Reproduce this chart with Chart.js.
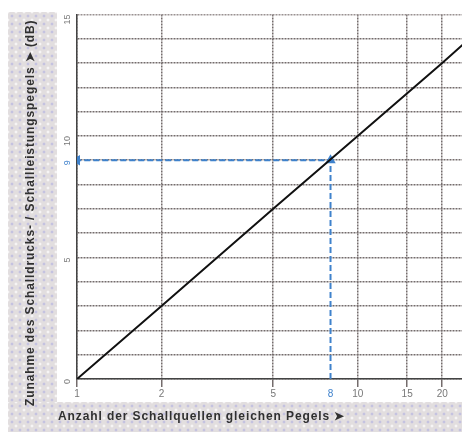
<!DOCTYPE html>
<html>
<head>
<meta charset="utf-8">
<script src="https://cdn.jsdelivr.net/npm/chart.js@4/dist/chart.umd.min.js"></script>
<style>
  html, body { margin: 0; padding: 0; background: #fff; overflow: hidden; }
  body { width: 462px; height: 432px; position: relative; }
  .muster {
    position: absolute;
    background-color: #e2dedf;
    background-image:
      radial-gradient(circle, rgba(160, 160, 225, 0.45) 1px, transparent 1.8px),
      radial-gradient(circle, rgba(255, 255, 255, 0.7) 1px, transparent 1.8px);
    background-size: 8px 8px, 8px 8px;
    background-position: 0 0, 4px 4px;
  }
  #links { left: 8px; top: 12px; width: 49px; height: 420px; }
  #unten { left: 8px; top: 402px; width: 454px; height: 30px; }
  #box { position: absolute; left: 0; top: 0; width: 476px; height: 432px; }
</style>
</head>
<body>
<div class="muster" id="links"></div>
<div class="muster" id="unten"></div>
<div id="box"><canvas id="chart"></canvas></div>
<script>
  // Pegelzunahme bei n gleichen Schallquellen
  const lineN = [1, 2, 5, 10, 20, 25];
  const lineDb = [0, 3, 7, 10, 13, 14];

  // Ablesebeispiel: 8 Quellen -> 9 dB
  const markN = [8, 8, 1];
  const markDb = [0, 9, 9];

  const xTicks = [1, 2, 5, 8, 10, 15, 20, 25];
  const yLabels = [0, 5, 9, 10, 15];

  const xTitle = "Anzahl der Schallquellen gleichen Pegels \u27A4";
  const yTitle = "Zunahme des Schalldrucks- / Schallleistungspegels \u27A4 (dB)";

  const blau = "#3f82cc";
  const grau = "#777";
  const gitter = "#746c6c";

  const titelPlugin = {
    id: "titel",
    afterDraw(chart) {
      const ctx = chart.ctx;
      ctx.save();
      ctx.fillStyle = "#303030";
      ctx.font = "bold 12px 'Liberation Sans', Arial, sans-serif";
      ctx.letterSpacing = "0.9px";
      ctx.textBaseline = "middle";
      ctx.textAlign = "left";
      ctx.fillText(xTitle, 58, 417);

      ctx.translate(31, 406);
      ctx.rotate(-Math.PI / 2);
      ctx.fillText(yTitle, 0, 0);
      ctx.restore();
    },
  };

  const ctx = document.querySelector("#chart").getContext("2d");
  const myChart = new Chart(ctx, {
    type: "line",
    data: {
      datasets: [
        {
          data: lineN.map((n, i) => ({ x: n, y: lineDb[i] })),
          borderColor: "#111",
          borderWidth: 2,
          pointRadius: 0,
          tension: 0,
        },
        {
          data: markN.map((n, i) => ({ x: n, y: markDb[i] })),
          borderColor: blau,
          backgroundColor: blau,
          borderWidth: 2,
          borderDash: [6, 3],
          pointStyle: "triangle",
          pointRadius: [0, 4, 4],
          pointRotation: [0, 0, -90],
          tension: 0,
        },
      ],
    },
    options: {
      responsive: true,
      maintainAspectRatio: false,
      animation: false,
      layout: { padding: { top: 13, right: 5, bottom: 0, left: 0 } },
      plugins: {
        legend: { display: false },
        tooltip: { enabled: false },
      },
      scales: {
        x: {
          type: "logarithmic",
          min: 1,
          max: 25,
          afterBuildTicks: (scale) => {
            scale.ticks = xTicks.map((v) => ({ value: v }));
          },
          afterFit: (scale) => {
            scale.height = 53;
          },
          grid: {
            color: (c) => (c.tick && c.tick.value === 8 ? "transparent" : gitter),
            lineWidth: 1.5,
            tickLength: 8,
          },
          border: { color: "#444", width: 1.5, dash: [2, 1] },
          ticks: {
            autoSkip: false,
            maxRotation: 0,
            padding: 1,
            color: (c) => (c.tick && c.tick.value === 8 ? blau : grau),
            font: { family: "'Liberation Sans', Arial, sans-serif", size: 10 },
            callback: (v) => String(v),
          },
        },
        y: {
          min: 0,
          max: 15,
          afterFit: (scale) => {
            scale.width = 77;
          },
          grid: {
            color: (c) => (c.tick && c.tick.value === 15 ? "#9a9292" : gitter),
            lineWidth: 1.5,
            tickLength: 0,
          },
          border: { color: "#444", width: 1.5, dash: [2, 1] },
          ticks: {
            stepSize: 1,
            autoSkip: false,
            minRotation: 90,
            maxRotation: 90,
            padding: 9,
            color: (c) => (c.tick && c.tick.value === 9 ? blau : grau),
            font: { family: "'Liberation Sans', Arial, sans-serif", size: 9 },
            callback: (v) => (yLabels.includes(v) ? String(v) : ""),
          },
        },
      },
    },
    plugins: [titelPlugin],
  });
</script>
</body>
</html>
